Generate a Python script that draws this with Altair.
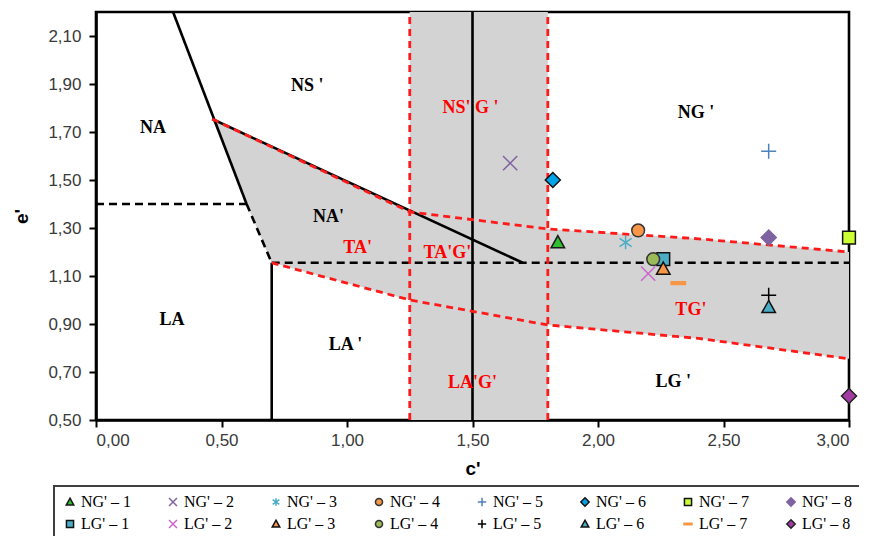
import altair as alt
import pandas as pd

# ---------------- scatter series ----------------
series = ["NG' – 1", "NG' – 2", "NG' – 3", "NG' – 4", "NG' – 5", "NG' – 6", "NG' – 7", "NG' – 8",
          "LG' – 1", "LG' – 2", "LG' – 3", "LG' – 4", "LG' – 5", "LG' – 6", "LG' – 7", "LG' – 8"]
c_vals = [1.84, 1.65, 2.11, 2.16, 2.68, 1.82, 3.00, 2.68,
          2.26, 2.20, 2.26, 2.22, 2.68, 2.68, 2.32, 3.00]
e_vals = [1.24, 1.57, 1.24, 1.29, 1.62, 1.50, 1.26, 1.26,
          1.17, 1.11, 1.13, 1.17, 1.02, 0.97, 1.07, 0.60]

TRI = "M0,-0.9L0.9,0.72L-0.9,0.72Z"
XM = "M-0.95,-0.95L0.95,0.95M-0.95,0.95L0.95,-0.95"
AST = "M-0.8,-0.55L0.8,0.55M-0.8,0.55L0.8,-0.55M0,-0.9L0,0.9"
CIR = "M-0.85,0A0.85,0.85 0 1,0 0.85,0A0.85,0.85 0 1,0 -0.85,0Z"
PLUS = "M-1,0L1,0M0,-1L0,1"
DIA = "M0,-1L1,0L0,1L-1,0Z"
SQR = "M-0.85,-0.85L0.85,-0.85L0.85,0.85L-0.85,0.85Z"
DASH = "M-0.95,-0.18L0.95,-0.18L0.95,0.18L-0.95,0.18Z"

shapes = [TRI, XM, AST, CIR, PLUS, DIA, SQR, DIA,
          SQR, XM, TRI, CIR, PLUS, TRI, DASH, DIA]
fills = ["#2fbf2f", "transparent", "transparent", "#f79646", "transparent", "#00a2e8", "#ccff33", "#7f63a1",
         "#4bacc6", "transparent", "#f79646", "#9bbb59", "transparent", "#4bacc6", "#f79646", "#a23ca2"]
strokes = ["#1a1a1a", "#8064a2", "#4bacc6", "#333333", "#4f81bd", "#111111", "#111111", "#7f63a1",
           "#111111", "#cc66cc", "#111111", "#333333", "#000000", "#111111", "#f79646", "#222222"]

# ---------------- boundary lines (c', e') ----------------
solid_black = {
    "NA_NS": ([0.307, 0.60], [2.20, 1.40]),
    "NA_top": ([0.463, 1.70], [1.754, 1.155]),
    "LA_LA": ([0.70, 0.70], [0.50, 1.155]),
    "mid": ([1.50, 1.50], [0.50, 2.20]),
}
dashed_black = {
    "NA_LA": ([0.0, 0.60], [1.40, 1.40]),
    "NA_TA": ([0.60, 0.70], [1.40, 1.155]),
    "horiz": ([0.70, 3.00], [1.155, 1.155]),
}
dashed_red = {
    "upper": ([0.463, 1.25, 1.80, 2.40, 3.00], [1.754, 1.367, 1.296, 1.255, 1.200]),
    "lower": ([0.70, 1.25, 1.80, 2.40, 3.00], [1.155, 1.000, 0.896, 0.840, 0.755]),
    "left": ([1.25, 1.25], [0.50, 2.20]),
    "right": ([1.80, 1.80], [0.50, 2.20]),
}

# transition zone (grey)
zone_c = [0.463, 0.60, 0.70, 1.25, 1.80, 2.40, 3.00]
zone_top = [1.754, 1.688, 1.639, 1.367, 1.296, 1.255, 1.200]
zone_bottom = [1.754, 1.400, 1.155, 1.000, 0.896, 0.840, 0.755]
band_c = [1.25, 1.80]
band_e = [0.50, 2.20]

# region labels
lab_text = ["NA", "NS '", "NA'", "TA'", "TA'G'", "NS' G '", "NG '", "TG'", "LA", "LA '", "LA'G'", "LG '"]
lab_c = [0.227, 0.842, 0.926, 1.042, 1.40, 1.492, 2.39, 2.37, 0.303, 0.994, 1.50, 2.30]
lab_e = [1.717, 1.892, 1.346, 1.217, 1.196, 1.800, 1.779, 0.958, 0.917, 0.8125, 0.654, 0.658]
lab_col = ["black", "black", "black", "red", "red", "red", "black", "red", "black", "black", "red", "black"]

x_ticks = [0.0, 0.5, 1.0, 1.5, 2.0, 2.5, 3.0]
y_ticks = [0.5, 0.7, 0.9, 1.1, 1.3, 1.5, 1.7, 1.9, 2.1]

# ---------------- frames ----------------
pts = pd.DataFrame({"series": series, "c": c_vals, "e": e_vals})


def lines_df(d):
    rows = []
    for k, (cs, es) in d.items():
        for i, (c, e) in enumerate(zip(cs, es)):
            rows.append({"id": k, "i": i, "c": c, "e": e})
    return pd.DataFrame(rows)


zone = pd.DataFrame({"c": zone_c, "e": zone_top, "e2": zone_bottom})
band = pd.DataFrame({"c": [band_c[0]], "c2": [band_c[1]], "e": [band_e[0]], "e2": [band_e[1]]})
labels = pd.DataFrame({"t": lab_text, "c": lab_c, "e": lab_e, "col": lab_col})

lab_expr = "replace(format(datum.value, '.2f'), '.', ',')"
xs = alt.Scale(domain=[0, 3], nice=False, zero=False)
ys = alt.Scale(domain=[0.5, 2.2], nice=False, zero=False)
X = alt.X("c:Q", scale=xs, axis=alt.Axis(values=x_ticks, labelExpr=lab_expr, title="c'", grid=False,
                                         labelPadding=5, titlePadding=11))
Y = alt.Y("e:Q", scale=ys, axis=alt.Axis(values=y_ticks, labelExpr=lab_expr, title="e'", grid=False,
                                         labelPadding=8, titlePadding=16))

band_layer = alt.Chart(band).mark_rect(color="#d3d3d3").encode(x=X, x2="c2:Q", y=Y, y2="e2:Q")
zone_layer = alt.Chart(zone).mark_area(color="#d3d3d3", opacity=1).encode(x=X, y=Y, y2="e2:Q")

solid_layer = alt.Chart(lines_df(solid_black)).mark_line(color="black", strokeWidth=2.6).encode(
    x=X, y=Y, detail="id:N", order="i:Q")
dashb_layer = alt.Chart(lines_df(dashed_black)).mark_line(color="black", strokeWidth=2.6,
                                                          strokeDash=[8, 5]).encode(
    x=X, y=Y, detail="id:N", order="i:Q")
dashr_layer = alt.Chart(lines_df(dashed_red)).mark_line(color="#ff1a1a", strokeWidth=2.8,
                                                        strokeDash=[7, 5]).encode(
    x=X, y=Y, detail="id:N", order="i:Q")

text_layer = alt.Chart(labels).mark_text(font="Liberation Serif", fontWeight="bold", fontSize=18).encode(
    x=X, y=Y, text="t:N", color=alt.Color("col:N", scale=None))

legend = alt.Legend(title=None, orient="none", legendX=-42, legendY=474, columns=8, direction="horizontal",
                    columnPadding=34, rowPadding=6, padding=8, strokeColor="#404040",
                    labelFont="Liberation Serif", labelFontSize=16, labelColor="black",
                    symbolSize=70, labelOffset=3)
point_layer = alt.Chart(pts).mark_point(filled=True, size=225, opacity=1, strokeWidth=1.5).encode(
    x=X, y=Y,
    shape=alt.Shape("series:N", scale=alt.Scale(domain=series, range=shapes), legend=legend),
    fill=alt.Fill("series:N", scale=alt.Scale(domain=series, range=fills), legend=legend),
    stroke=alt.Stroke("series:N", scale=alt.Scale(domain=series, range=strokes), legend=legend),
)

chart = alt.layer(band_layer, zone_layer, solid_layer, dashb_layer, dashr_layer, text_layer, point_layer).properties(
    width=753, height=408,
    padding={"left": 88, "top": 4, "right": 10, "bottom": 116},
    autosize=alt.AutoSizeParams(type="none"),
).configure_view(
    stroke="black", strokeWidth=2.6
).configure_axis(
    labelFont="Liberation Sans", labelFontSize=17, labelColor="#3a3a3a",
    titleFont="Liberation Sans", titleFontSize=19, titleFontWeight="bold", titleColor="black",
    tickColor="black", tickWidth=2, tickSize=7, domainColor="black", domainWidth=2.6,
).configure_legend(
    strokeWidth=2
)

chart.save("out.html", embed_options={"renderer": "svg", "actions": False})
